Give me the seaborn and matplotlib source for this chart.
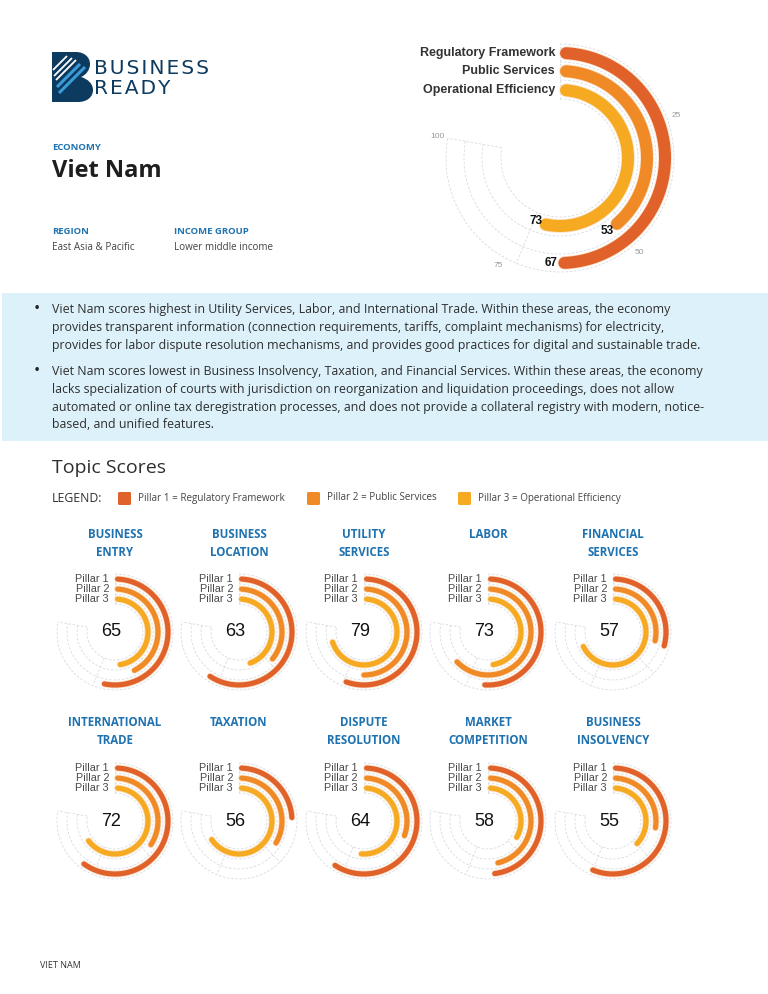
import numpy as np
import pandas as pd
import matplotlib
matplotlib.use("Agg")
import matplotlib.pyplot as plt
import matplotlib.patches as mpatches
from matplotlib.path import Path
import seaborn as sns

W, H = 768, 994
PT = 0.72  # points per pixel at dpi 100

# Pillars and overall country scores (top gauge)
PILLAR_NAMES = ["Regulatory Framework", "Public Services", "Operational Efficiency"]
PILLAR_COLORS = ["#e0622a", "#ef8a27", "#f5aa22"]
OVERALL_PILLARS = [67, 53, 73]
GAUGE_TICKS = [25, 50, 75, 100]

# Topic scores and per-pillar values
TOPICS = [
    "BUSINESS\nENTRY", "BUSINESS\nLOCATION", "UTILITY\nSERVICES", "LABOR", "FINANCIAL\nSERVICES",
    "INTERNATIONAL\nTRADE", "TAXATION", "DISPUTE\nRESOLUTION", "MARKET\nCOMPETITION", "BUSINESS\nINSOLVENCY",
]
TOPIC_SCORES = [65, 63, 79, 73, 57, 72, 56, 64, 58, 55]
PILLAR1 = [72, 80, 75, 69, 40, 81, 33, 80, 65, 76]
PILLAR2 = [58, 49, 68, 85, 39, 47, 46, 42, 63, 38]
PILLAR3 = [65, 61, 95, 65, 92, 88, 89, 70, 46, 51]

SUMMARY_LINES = [
    ["Viet Nam scores highest in Utility Services, Labor, and International Trade. Within these areas, the economy",
     "provides transparent information (connection requirements, tariffs, complaint mechanisms) for electricity,",
     "provides for labor dispute resolution mechanisms, and provides good practices for digital and sustainable trade."],
    ["Viet Nam scores lowest in Business Insolvency, Taxation, and Financial Services. Within these areas, the economy",
     "lacks specialization of courts with jurisdiction on reorganization and liquidation proceedings, does not allow",
     "automated or online tax deregistration processes, and does not provide a collateral registry with modern, notice-",
     "based, and unified features."],
]

SWEEP = 1.5 * np.pi            # 100 points = three quarters of a circle
TRACK_END = SWEEP + np.radians(10)  # background track runs a little past 100
BLUE = "#1f72b0"
TRACK = "#d6dbe0"
ARIAL = ["Liberation Sans", "DejaVu Sans"]


def _gauge_axes(fig, cx, cy, R):
    ax = fig.add_axes([(cx - R) / W, 1 - (cy + R) / H, 2 * R / W, 2 * R / H], projection="polar")
    ax.set_theta_zero_location("N")
    ax.set_theta_direction(-1)
    ax.axis("off")
    return ax


def _draw_gauge(ax, values, radii, width_px, R):
    gap = (radii[0] - radii[1]) / 2
    bounds = [radii[0] + gap] + [r - gap for r in radii]

    # dashed background track
    full = np.linspace(0, TRACK_END, 400)
    for b in bounds:
        ax.plot(full, np.full_like(full, b), color=TRACK, lw=0.6, ls=(0, (3, 2)), zorder=1)
    for th in [0, 0.5 * SWEEP, 0.75 * SWEEP, TRACK_END]:
        ax.plot([th, th], [bounds[-1], bounds[0]], color=TRACK, lw=0.6, ls=(0, (3, 2)), zorder=1)

    # round caps kept inside the value range
    rows = []
    for name, v, r in zip(PILLAR_NAMES, values, radii):
        cap = (width_px / 2) / r
        th = np.linspace(cap, max(v / 100 * SWEEP - cap, cap), 200)
        rows.append(pd.DataFrame({"theta": th, "r": r, "pillar": name}))
    df = pd.concat(rows, ignore_index=True)

    # light halo under the bars, then the bars
    sns.lineplot(data=df, x="theta", y="r", units="pillar", estimator=None, sort=False,
                 color="#fde6cf", linewidth=width_px * PT + 1.3, solid_capstyle="round",
                 legend=False, ax=ax, zorder=2)
    sns.lineplot(data=df, x="theta", y="r", hue="pillar", estimator=None, sort=False,
                 palette=dict(zip(PILLAR_NAMES, PILLAR_COLORS)), linewidth=width_px * PT,
                 solid_capstyle="round", legend=False, ax=ax, zorder=3)
    ax.set_ylim(0, R)
    ax.axis("off")


def _header(page):
    # logo
    verts = [(52, 52), (76, 52), (84, 52), (90, 57), (90, 64), (90, 70), (86, 75), (81, 77),
             (88, 79), (93, 84), (93, 90), (93, 97), (87, 102), (78, 102), (52, 102), (52, 52)]
    codes = [Path.MOVETO, Path.LINETO] + [Path.CURVE4] * 12 + [Path.LINETO, Path.CLOSEPOLY]
    logo = mpatches.PathPatch(Path(verts, codes), facecolor="#0d3a5f", edgecolor="none")
    page.add_patch(logo)
    stripes = [((53, 70), (67, 56), "white", 1.3), ((54, 76), (72, 58), "white", 1.3),
               ((56, 80), (76, 60), "white", 1.3), ((57, 87), (80, 64), "#3b9ad8", 2.2),
               ((59, 93), (85, 67), "#3b9ad8", 2.2)]
    for (x0, y0), (x1, y1), c, lw in stripes:
        ln, = page.plot([x0, x1], [y0, y1], color=c, lw=lw, solid_capstyle="butt")
        ln.set_clip_path(logo)

    for y, word in [(69, "B U S I N E S S"), (89, "R E A D Y")]:
        page.text(94, y, word.replace(" ", "\u200a"), fontsize=14.5, color="#0d3a5f",
                  family=["DejaVu Sans"], va="center", ha="left")

    page.text(52, 148, "ECONOMY", fontsize=6.8, weight="bold", color=BLUE, va="center")
    page.text(52, 171, "Viet Nam", fontsize=17, weight="bold", color="#1e1e1e", va="center")
    page.text(52, 232, "REGION", fontsize=6.8, weight="bold", color=BLUE, va="center")
    page.text(52, 247, "East Asia & Pacific", fontsize=7.1, color="#444444", va="center")
    page.text(174, 232, "INCOME GROUP", fontsize=6.8, weight="bold", color=BLUE, va="center")
    page.text(174, 247, "Lower middle income", fontsize=7.1, color="#444444", va="center")


def _summary(page):
    page.add_patch(mpatches.Rectangle((2, 293), 766, 148, facecolor="#ddf1fa", edgecolor="none"))
    y = 309
    for para in SUMMARY_LINES:
        page.text(37, y, "\u2022", fontsize=12, color="#222222", va="center", ha="center")
        for line in para:
            page.text(52, y, line, fontsize=8.9, color="#2e2e2e", va="center")
            y += 18
        y += 8


def _legend(page):
    page.text(52, 468, "Topic Scores", fontsize=14, color="#2e2e2e", va="center")
    page.text(52, 498, "LEGEND:", fontsize=8.8, color="#2e2e2e", va="center")
    for x, name, c, i in zip([118, 307, 458], PILLAR_NAMES, PILLAR_COLORS, range(3)):
        page.add_patch(mpatches.FancyBboxPatch((x, 492), 13, 13, boxstyle="round,pad=0,rounding_size=1.5",
                                               facecolor=c, edgecolor="none"))
        page.text(x + 20, 498, f"Pillar {i + 1} = {name}", fontsize=7.1, color="#444444", va="center")


def run(output="out.png"):
    sns.set_theme(style="white")
    plt.rcParams["font.family"] = ["Open Sans", "DejaVu Sans"]

    fig = plt.figure(figsize=(W / 100, H / 100), dpi=100)
    page = fig.add_axes([0, 0, 1, 1])
    page.set_xlim(0, W)
    page.set_ylim(H, 0)
    page.axis("off")

    _header(page)
    _summary(page)
    _legend(page)

    # --- big overall gauge ---
    cx, cy = 560, 158
    radii = [105, 87, 68]
    ax = _gauge_axes(fig, cx, cy, 135)
    _draw_gauge(ax, OVERALL_PILLARS, radii, 12, 135)
    for name, r in zip(PILLAR_NAMES, radii):
        page.text(cx - 5, cy - r, name, fontsize=9, weight="bold", color="#333333",
                  family=ARIAL, ha="right", va="center")
    for t in GAUGE_TICKS:
        ax.text(t / 100 * TRACK_END, 124, str(t), fontsize=6, color="#999999",
                family=ARIAL, ha="center", va="center")
    for v, r in zip(OVERALL_PILLARS, radii):
        ax.text(v / 100 * SWEEP + np.radians(4), r, str(v), fontsize=8.5, weight="bold",
                color="#111111", family=ARIAL, ha="center", va="center", zorder=6)

    # --- topic gauges ---
    col_x = [115, 239, 364, 488, 613]
    row_y = [632, 821]
    title_y = [535, 723]
    small_radii = [53, 43, 33]
    for i, topic in enumerate(TOPICS):
        cx, cy = col_x[i % 5], row_y[i // 5]
        ty = title_y[i // 5]
        for k, line in enumerate(topic.split("\n")):
            page.text(cx, ty + k * 17, line, fontsize=8.3, weight="bold", color=BLUE,
                      ha="center", va="center")
        ax = _gauge_axes(fig, cx, cy, 62)
        _draw_gauge(ax, [PILLAR1[i], PILLAR2[i], PILLAR3[i]], small_radii, 5.2, 62)
        for k, r in enumerate(small_radii):
            page.text(cx - 6, cy - r, f"Pillar {k + 1}", fontsize=7.8, color="#4a4a4a",
                      family=ARIAL, ha="right", va="center")
        page.text(cx - 4, cy, str(TOPIC_SCORES[i]), fontsize=13, color="#111111",
                  family=ARIAL, ha="center", va="center")

    page.text(40, 965, "VIET NAM", fontsize=6.5, color="#333333", va="center")

    fig.savefig(output, dpi=100)
    plt.close(fig)


if __name__ == "__main__":
    run()
